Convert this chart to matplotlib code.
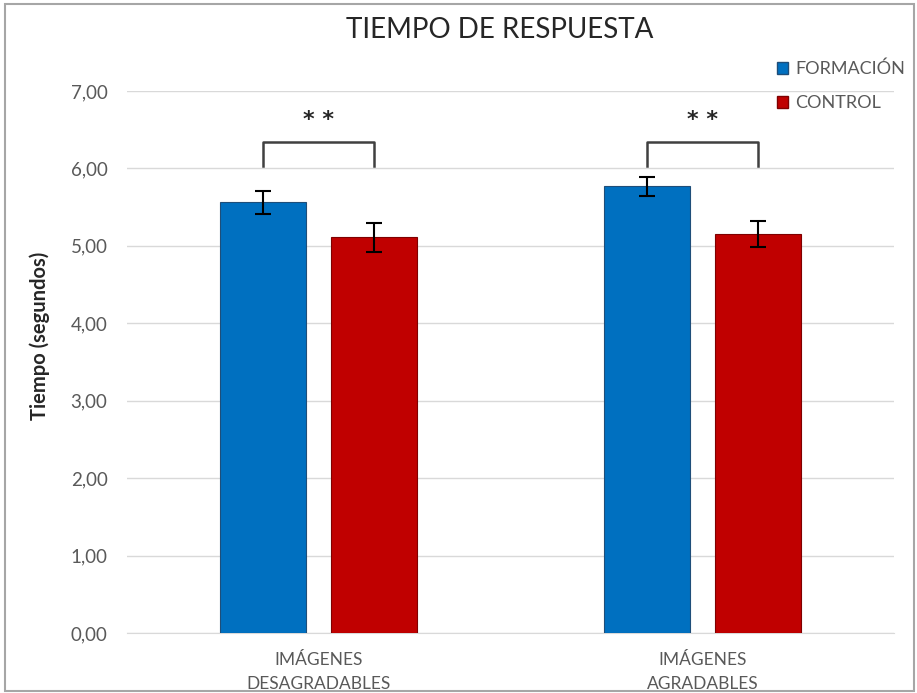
import matplotlib.pyplot as plt
from matplotlib.patches import Patch, Rectangle
import numpy as np

plt.rcParams['font.family'] = ['Lato', 'DejaVu Sans']

categorias = ["IMÁGENES\nDESAGRADABLES", "IMÁGENES\nAGRADABLES"]
formacion = [5.56, 5.77]
formacion_err = [0.15, 0.12]
control = [5.11, 5.15]
control_err = [0.19, 0.17]
significancia = ["* *", "* *"]
yticks = [0, 1, 2, 3, 4, 5, 6, 7]

azul = "#0070C0"
rojo = "#C00000"
gris = "#595959"

fig = plt.figure(figsize=(9.17, 6.93), dpi=100)
ax = fig.add_axes([0.1385, 0.0866, 0.8365, 0.7821])

x = np.arange(len(categorias))
w = 0.224
off = 0.145

ax.bar(x - off, formacion, w, color=azul, edgecolor="#1F4E79", linewidth=0.8, zorder=3)
ax.bar(x + off, control, w, color=rojo, edgecolor="#7F0000", linewidth=0.8, zorder=3)
ax.errorbar(x - off, formacion, yerr=formacion_err, fmt="none", ecolor="black",
            elinewidth=1.5, capsize=6, capthick=1.5, zorder=4)
ax.errorbar(x + off, control, yerr=control_err, fmt="none", ecolor="black",
            elinewidth=1.5, capsize=6, capthick=1.5, zorder=4)

# corchetes de significancia
for i in range(len(categorias)):
    ax.plot([i - off, i - off, i + off, i + off], [6.03, 6.34, 6.34, 6.03],
            color="#404040", lw=1.8, zorder=4)
    ax.text(i, 6.62, significancia[i], ha="center", va="center", fontsize=16,
            fontweight="bold", color="#262626", family="DejaVu Sans")

ax.set_xlim(-0.5, 1.5)
ax.set_ylim(0, 7)
ax.set_yticks(yticks)
ax.set_yticklabels(["%d,00" % v for v in yticks])
ax.set_xticks(x)
ax.set_xticklabels(categorias, linespacing=1.6)
ax.tick_params(axis="both", length=0, colors=gris)
ax.tick_params(axis="y", pad=14, labelsize=13.5)
ax.tick_params(axis="x", pad=14, labelsize=12.5)
ax.grid(axis="y", color="#D9D9D9", lw=1, zorder=0)
for s in ["top", "right", "left"]:
    ax.spines[s].set_visible(False)
ax.spines["bottom"].set_color("#D9D9D9")

ax.set_ylabel("Tiempo (segundos)", fontsize=14.5, fontweight="bold", color="#262626")
ax.yaxis.set_label_coords(-0.101, 0.548)

fig.text(500 / 917, 1 - 30 / 693, "TIEMPO DE RESPUESTA", ha="center", va="center",
         fontsize=20, color="#262626")

handles = [Patch(facecolor=azul, edgecolor="#1F4E79"), Patch(facecolor=rojo, edgecolor="#7F0000")]
ax.legend(handles, ["FORMACIÓN", "CONTROL"], loc="center left",
          bbox_to_anchor=(777 / 917, 1 - 86 / 693), bbox_transform=fig.transFigure,
          frameon=False, fontsize=13, labelcolor=gris, handlelength=0.6, handleheight=0.6,
          handletextpad=0.4, labelspacing=1.0, borderaxespad=0, borderpad=0)

fig.patches.append(Rectangle((5 / 917, 2 / 693), 909 / 917, 687 / 693, transform=fig.transFigure,
                             fill=False, edgecolor="#A6A6A6", lw=1.5))

fig.savefig("out.png", dpi=100)
